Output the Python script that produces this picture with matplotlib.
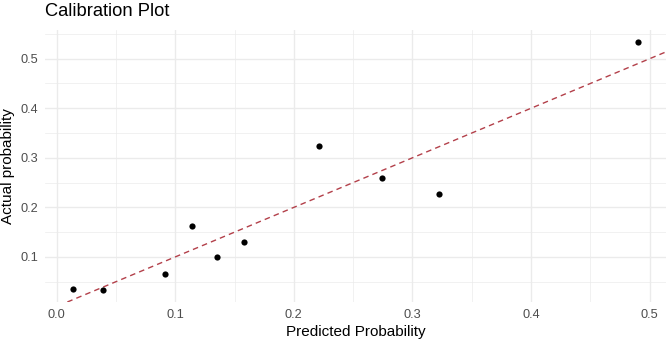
import numpy as np
import matplotlib
matplotlib.use("Agg")
import matplotlib.pyplot as plt
from matplotlib.ticker import MultipleLocator

# calibration bins: mean predicted vs observed rate
predicted = [0.014, 0.039, 0.091, 0.114, 0.135, 0.158, 0.221, 0.274, 0.322, 0.490]
actual = [0.035, 0.034, 0.066, 0.163, 0.099, 0.131, 0.323, 0.259, 0.226, 0.533]

GRID = "#ebebeb"
TICK = "#4d4d4d"
LINE = "#b3404a"

plt.rcParams.update({
    "font.family": ["Liberation Sans", "DejaVu Sans"],
    "axes.edgecolor": "none",
})

fig = plt.figure(figsize=(6.66, 3.44), dpi=100)
ax = fig.add_axes([45 / 666, 1 - 302 / 344, 621 / 666, 272 / 344])

x = np.array(predicted)
y = np.array(actual)
ax.scatter(x, y, s=20, color="black", zorder=3, linewidths=0)

# 5% padding like ggplot's default expansion
xr = x.max() - x.min()
yr = y.max() - y.min()
ax.set_xlim(x.min() - 0.05 * xr, x.max() + 0.05 * xr)
ax.set_ylim(y.min() - 0.05 * yr, y.max() + 0.05 * yr)

ax.axline((0, 0), slope=1, color=LINE, linestyle=(0, (4, 3)), linewidth=1.0, zorder=2)

ax.xaxis.set_major_locator(MultipleLocator(0.1))
ax.xaxis.set_minor_locator(MultipleLocator(0.05))
ax.yaxis.set_major_locator(MultipleLocator(0.1))
ax.yaxis.set_minor_locator(MultipleLocator(0.05))
ax.grid(which="major", color=GRID, linewidth=1.0)
ax.grid(which="minor", color=GRID, linewidth=0.5)
ax.set_axisbelow(True)
ax.xaxis.set_major_formatter(lambda v, p: f"{v:.1f}")
ax.yaxis.set_major_formatter(lambda v, p: f"{v:.1f}")
ax.tick_params(which="both", length=0, labelsize=9.2, labelcolor=TICK)
ax.tick_params(axis="x", pad=5)
ax.tick_params(axis="y", pad=5)
for s in ax.spines.values():
    s.set_visible(False)

ax.set_xlabel("Predicted Probability", fontsize=11, color="black", labelpad=3)
ax.set_ylabel("Actual probability", fontsize=11, color="black", labelpad=4)
fig.text(45 / 666, 1 - 12 / 344, "Calibration Plot", fontsize=13.2,
         ha="left", va="center")

fig.savefig("out.png", dpi=100)
